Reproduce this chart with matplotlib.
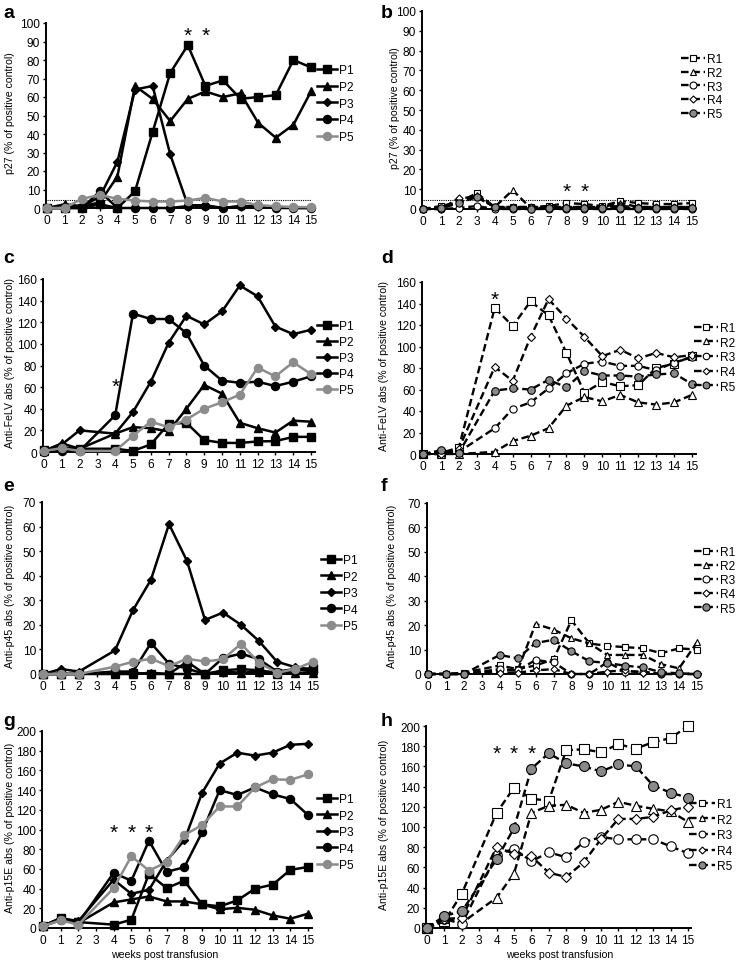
import matplotlib
matplotlib.use('Agg')
import matplotlib.pyplot as plt

plt.rcParams['font.family'] = ['Liberation Sans', 'DejaVu Sans']

W, H = 746, 970

# ---------------- data ----------------
weeks_ab = list(range(16))
weeks = [0, 1, 2, 4, 5, 6, 7, 8, 9, 10, 11, 12, 13, 14, 15]
p_labels = ['P1', 'P2', 'P3', 'P4', 'P5']
r_labels = ['R1', 'R2', 'R3', 'R4', 'R5']
threshold = 4.3

# a: p27, P cats
a_P1 = [0, 0, 0, 2, 0, 9, 41, 73, 88, 66, 69, 59, 60, 61, 80, 76]
a_P2 = [0, 2, 1, 3, 17, 66, 59, 47, 59, 63, 60, 62, 46, 38, 45, 63]
a_P3 = [0, 0, 1, 6, 25, 64, 66, 29, 1.5, 1.5, 0, 1, 1, 0.5, 0, 0]
a_P4 = [0, 0, 0, 9, 0, 0, 0, 0, 1, 1, 0, 1, 1, 0, 0, 0]
a_P5 = [0, 0, 5, 7, 5, 4, 3.5, 3.5, 4, 5.5, 3.5, 3.5, 1.5, 1, 0.5, 0.5]

# b: p27, R cats
b_R1 = [0, 1.5, 3.5, 8, 1, 1, 1, 1.5, 3, 2.5, 1.5, 4, 3, 2.5, 2.5, 3]
b_R2 = [0, 0.5, 3, 7, 1, 9.5, 0.5, 0.5, 1, 1, 1, 3, 1, 1, 1, 1]
b_R3 = [0, 0, 0.5, 1.5, 0, 0, 0, 0, 0, 0, 0, 0, 0, 0, 0, 0]
b_R4 = [0, 0, 5.5, 6, 1, 1, 1, 1, 1, 1, 1, 1.5, 1, 1, 1, 1]
b_R5 = [0, 0.5, 3, 6, 1, 0.5, 0, 0.5, 0.5, 0.5, 0.5, 0.5, 0.5, 0.5, 0.5, 0.5]

# c: anti-FeLV, P cats
c_P1 = [1.5, 4, 3, 3, 1, 7, 26, 27, 11, 8.5, 8.3, 9.8, 10, 14, 14]
c_P2 = [1, 8, 3, 17, 23, 22, 19, 40, 62, 54, 27, 22, 18, 29, 28]
c_P3 = [1, 7, 20, 17, 37, 65, 101, 126, 118, 130, 154, 144, 116, 109, 113]
c_P4 = [0, 1, 1, 34, 128, 123, 123, 110, 80, 66, 64, 65, 61, 65, 70]
c_P5 = [1, 3.5, 1, 1, 15, 28, 23, 30, 40, 46, 53, 78, 70, 83, 72]

# d: anti-FeLV, R cats
d_R1 = [0, 1, 6, 136, 119, 142, 129, 94, 57, 67, 63, 64, 80, 84, 91]
d_R2 = [0, 0, 0, 2, 12, 17, 24, 45, 53, 49, 55, 48, 46, 48, 55]
d_R3 = [0, 2, 2, 24, 42, 48, 61, 75, 84, 86, 82, 82, 78, 85, 90]
d_R4 = [0, 0, 5, 81, 68, 109, 144, 126, 109, 91, 97, 89, 94, 90, 92]
d_R5 = [0, 3.5, 1, 59, 61, 60, 69, 62, 77, 73, 73, 72, 74, 75, 65]

# e: anti-p45, P cats
e_P1 = [0, 0, 0, 0.5, 0.5, 0, 0, 5, 0, 1.5, 2, 1.5, 0.5, 1.5, 2.5]
e_P2 = [0, 0, 0, 0, 0, 0.5, 0, 0, 0, 1, 0.5, 1, 0, 0.5, 0.5]
e_P3 = [0, 2, 1, 9.6, 26, 38.4, 61, 46, 22, 25, 20, 13.4, 5, 2.8, 1.8]
e_P4 = [0, 0, 0, 1, 1, 12.6, 4.2, 2.2, 0, 6.5, 8.3, 6, 1, 2, 1]
e_P5 = [0, 0, 0, 3, 5, 6.2, 3.2, 6.2, 5.1, 6, 12.3, 4.6, 0.5, 2, 5]

# f: anti-p45, R cats
f_R1 = [0, 0, 0.5, 3.5, 2, 3.5, 6, 22, 12.5, 11.5, 11, 10.5, 8.5, 10.5, 10]
f_R2 = [0, 0, 0, 1.5, 1.5, 20.5, 18.2, 14.6, 12.5, 7.8, 7.8, 7.8, 4, 2.3, 13]
f_R3 = [0, 0, 0, 2, 1.5, 5.7, 4.8, 0, 0, 4.8, 1, 1, 0, 0, 0]
f_R4 = [0, 0, 0, 0.5, 0.5, 1.5, 2, 0, 0, 1, 1.5, 0.5, 0, 0, 0]
f_R5 = [0, 0, 0, 7.8, 6.4, 12.7, 14, 9.3, 5.2, 4.5, 3.4, 2.7, 0.7, 0.3, 0]

# g: anti-p15E, P cats
g_P1 = [2, 10, 6, 3.4, 8.4, 55, 40.5, 48, 24, 22, 28, 40, 44, 59, 62]
g_P2 = [2, 10, 5, 26, 29, 32, 27, 27, 24, 19, 20.5, 18.5, 12.8, 9.4, 14.5]
g_P3 = [2, 10, 7, 49, 34.7, 38.8, 68.5, 89, 137, 167, 178, 175, 178, 186, 187]
g_P4 = [2, 8, 5, 56, 48, 88.7, 57, 61.7, 97, 140, 135, 142.7, 135.6, 131, 114.7]
g_P5 = [2, 7.8, 3.4, 40.5, 72.8, 58.3, 66.8, 94.4, 104.5, 123.4, 123.4, 142.7, 151, 150.4, 156]

# h: anti-p15E, R cats
h_R1 = [0, 6.6, 34, 114, 139, 128, 126, 176, 177, 174, 182, 177.6, 184, 188, 200]
h_R2 = [0, 10, 5, 30, 53.8, 114, 121, 122, 114, 117, 125, 121, 118, 115.5, 105]
h_R3 = [0, 9, 4, 72.6, 78.5, 66, 75, 70, 85, 90, 87.8, 87.8, 87.8, 80.8, 74]
h_R4 = [0, 9, 10, 80, 73.6, 71, 54.8, 50.5, 65, 88, 108, 108, 110, 116.5, 120]
h_R5 = [0, 12, 16.5, 68, 99, 157.8, 173, 163, 160, 155, 162, 160, 141, 134, 129]

# asterisk positions (week, value)
a_stars = [(8, 97), (9, 97)]
b_stars = [(8, 12), (9, 12)]
c_stars = [(4, 67)]
d_stars = [(4, 150)]
g_stars = [(4, 104), (5, 104), (6, 104)]
h_stars = [(4, 179), (5, 179), (6, 179)]

# ---------------- styling ----------------
GREY = '#8c8c8c'
P_STY = [
    dict(marker='s', ms=5.2, color='black', mfc='black', mec='black'),
    dict(marker='^', ms=5.8, color='black', mfc='black', mec='black'),
    dict(marker='D', ms=3.8, color='black', mfc='black', mec='black'),
    dict(marker='o', ms=5.8, color='black', mfc='black', mec='black'),
    dict(marker='o', ms=5.8, color=GREY, mfc=GREY, mec=GREY),
]
R_MARK = ['s', '^', 'o', 'D', 'o']
R_FACE = ['white', 'white', 'white', 'white', '#8a8a8a']
R_SCALE = [1.0, 1.0, 1.0, 0.72, 1.05]

fig = plt.figure(figsize=(W / 100, H / 100), dpi=100)


def make_axes(x0, x15, y0, ytop, ymax, xlo=-0.05, xhi=15.2):
    ppu = (x15 - x0) / 15.0
    left = x0 + xlo * ppu
    right = x0 + xhi * ppu
    ax = fig.add_axes([left / W, 1 - y0 / H, (right - left) / W, (y0 - ytop) / H])
    ax.set_xlim(xlo, xhi)
    ax.set_ylim(0, ymax)
    for s in ['top', 'right']:
        ax.spines[s].set_visible(False)
    for s in ['left', 'bottom']:
        ax.spines[s].set_linewidth(1.4)
    ax.set_xticks(range(16))
    ax.tick_params(axis='both', labelsize=8.6, length=2.5, width=1, pad=2, direction='out')
    ax.patch.set_alpha(0)
    return ax


def panel(spec, xs, series, kind, labels):
    ax = make_axes(spec['x0'], spec['x15'], spec['y0'], spec['ytop'], spec['ymax'])
    ax.set_yticks(spec['yticks'])
    handles = []
    for i, ys in enumerate(series):
        if kind == 'P':
            st = P_STY[i]
            h, = ax.plot(xs, ys, lw=1.8, clip_on=False, zorder=3 + i * 0.1, **st)
        else:
            h, = ax.plot(xs, ys, color='black', lw=1.7, ls=(0, (3.2, 1.6)),
                         marker=R_MARK[i], mfc=R_FACE[i], mec='black', mew=0.8,
                         ms=spec.get('ms', 5.0) * R_SCALE[i],
                         clip_on=False, zorder=3 + i * 0.1)
        handles.append(h)
    if spec.get('thr'):
        ax.plot([0, 15], [threshold, threshold], ls=(0, (1, 1)), lw=0.8, color='black', zorder=2)
    for (sx, sy) in spec.get('stars', []):
        ax.annotate('*', (sx, sy), xytext=(0, -8.5), textcoords='offset points',
                    ha='center', va='baseline', fontsize=15)
    lx, ly = spec['leg']
    ax.legend(handles, labels, loc='upper left', bbox_to_anchor=(lx / W, 1 - ly / H),
              bbox_transform=fig.transFigure, frameon=False, borderpad=0,
              borderaxespad=0, handlelength=spec.get('hl', 1.7), handletextpad=0.15,
              labelspacing=spec['ls'], fontsize=8.6, markerscale=spec.get('mscale', 1.0))
    # y label
    fig.text(spec['ylx'] / W, 1 - ((spec['y0'] + spec['ytop']) / 2 - 3) / H, spec['ylabel'],
             rotation=90, ha='center', va='center', fontsize=7.6)
    # panel letter
    fig.text(spec['letter_xy'][0] / W, 1 - spec['letter_xy'][1] / H, spec['letter'],
             fontsize=14, fontweight='bold', ha='left', va='center')
    if spec.get('xlabel'):
        fig.text(spec['xlx'] / W, 1 - 955 / H, 'weeks post transfusion',
                 ha='center', va='center', fontsize=7.6)
    return ax


specs = {
    'a': dict(x0=47, x15=311, y0=209, ytop=24, ymax=100, yticks=range(0, 101, 10),
              ylabel='p27 (% of positive control)', ylx=10, leg=(317, 65), ls=0.4,
              thr=True, stars=a_stars, letter='a', letter_xy=(3, 13)),
    'b': dict(x0=423, x15=692, y0=210, ytop=12, ymax=100, yticks=range(0, 101, 10),
              ylabel='p27 (% of positive control)', ylx=395, leg=(681, 54), ls=0.15, hl=2.0,
              thr=True, stars=b_stars, letter='b', letter_xy=(381, 13), ms=5.0),
    'c': dict(x0=44, x15=311, y0=453, ytop=280, ymax=160, yticks=range(0, 161, 20),
              ylabel='Anti-FeLV abs (% of positive control)', ylx=10, leg=(317, 321), ls=0.33,
              stars=c_stars, letter='c', letter_xy=(3, 259)),
    'd': dict(x0=423, x15=692, y0=455, ytop=283, ymax=160, yticks=range(0, 161, 20),
              ylabel='Anti-FeLV abs (% of positive control)', ylx=384, leg=(694, 323), ls=0.22, hl=2.0,
              stars=d_stars, letter='d', letter_xy=(381, 259), ms=5.2, mscale=0.9),
    'e': dict(x0=43, x15=313, y0=675, ytop=503, ymax=70, yticks=range(0, 71, 10),
              ylabel='Anti-p45 abs (% of positive control)', ylx=10, leg=(321, 555), ls=0.38,
              letter='e', letter_xy=(3, 487), ms=5.0),
    'f': dict(x0=428, x15=697, y0=675, ytop=504, ymax=70, yticks=range(0, 71, 10),
              ylabel='Anti-p45 abs (% of positive control)', ylx=392, leg=(694, 547), ls=0.18, hl=2.0,
              letter='f', letter_xy=(381, 487), ms=5.0),
    'g': dict(x0=43, x15=308, y0=929, ytop=732, ymax=200, yticks=range(0, 201, 20),
              ylabel='Anti-p15E abs (% of positive control)', ylx=10, leg=(317, 794), ls=0.38,
              stars=g_stars, letter='g', letter_xy=(3, 722), xlabel=True, xlx=165),
    'h': dict(x0=427, x15=688, y0=929, ytop=727, ymax=200, yticks=range(0, 201, 20),
              ylabel='Anti-p15E abs (% of positive control)', ylx=384, leg=(689, 799), ls=0.3, hl=2.2,
              stars=h_stars, letter='h', letter_xy=(381, 722), xlabel=True, xlx=560, ms=6.8,
              mscale=0.72),
}

panel(specs['a'], weeks_ab, [a_P1, a_P2, a_P3, a_P4, a_P5], 'P', p_labels)
panel(specs['b'], weeks_ab, [b_R1, b_R2, b_R3, b_R4, b_R5], 'R', r_labels)
panel(specs['c'], weeks, [c_P1, c_P2, c_P3, c_P4, c_P5], 'P', p_labels)
panel(specs['d'], weeks, [d_R1, d_R2, d_R3, d_R4, d_R5], 'R', r_labels)
panel(specs['e'], weeks, [e_P1, e_P2, e_P3, e_P4, e_P5], 'P', p_labels)
panel(specs['f'], weeks, [f_R1, f_R2, f_R3, f_R4, f_R5], 'R', r_labels)
panel(specs['g'], weeks, [g_P1, g_P2, g_P3, g_P4, g_P5], 'P', p_labels)
panel(specs['h'], weeks, [h_R1, h_R2, h_R3, h_R4, h_R5], 'R', r_labels)

fig.savefig('out.png', dpi=100)
